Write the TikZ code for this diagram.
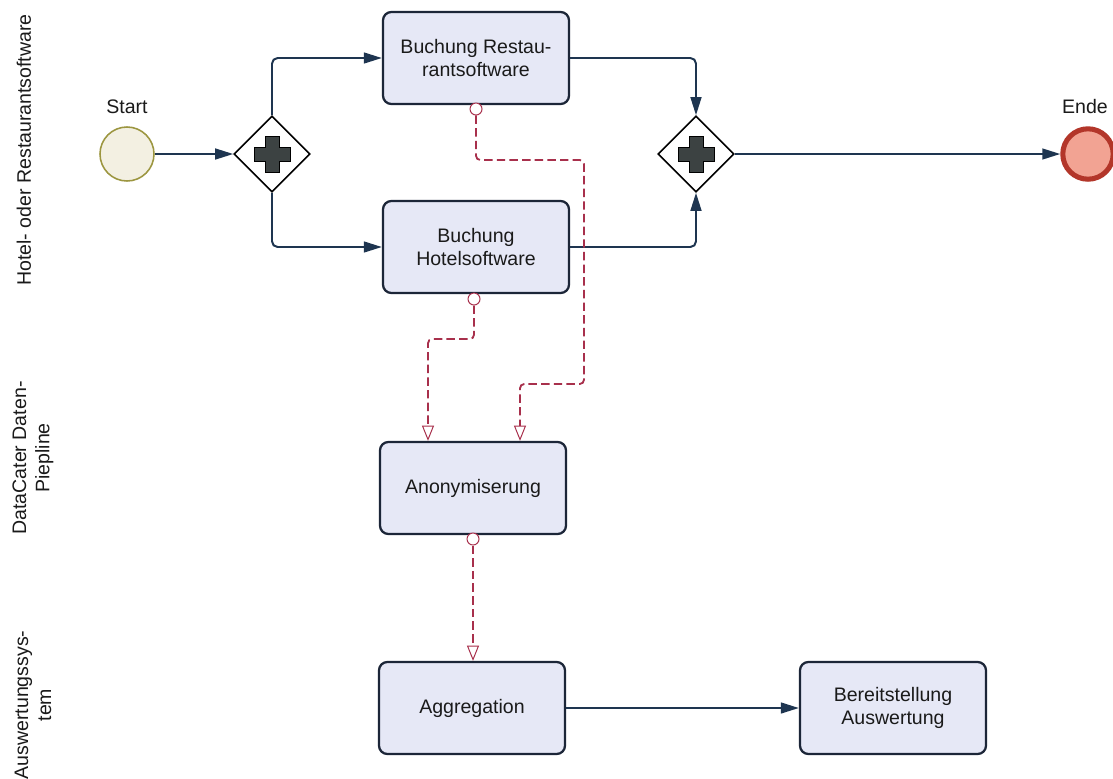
\documentclass[tikz,border=0pt]{standalone}
\usepackage{fontspec}
\setmainfont{Liberation Sans}
\usetikzlibrary{arrows.meta,shapes.geometric,calc}
\definecolor{taskfill}{HTML}{E6E8F6}
\definecolor{taskline}{HTML}{1C2638}
\definecolor{flow}{HTML}{1E3550}
\definecolor{assoc}{HTML}{A8304C}
\definecolor{startfill}{HTML}{F3F0E2}
\definecolor{startline}{HTML}{9C9640}
\definecolor{endfill}{HTML}{F2A393}
\definecolor{endline}{HTML}{B3362A}
\definecolor{crossc}{HTML}{3C4242}
\definecolor{txt}{HTML}{1A1A1A}
\tikzset{
  txtstyle/.style={font=\fontsize{13.9}{16.5}\selectfont, text=txt},
  task/.style={txtstyle, draw=taskline, fill=taskfill, line width=1.6pt, rounded corners=6pt,
    minimum width=4.65cm, minimum height=2.3cm, align=center, inner sep=2pt},
  gateway/.style={draw=black, fill=white, diamond, line width=1.1pt, minimum width=1.9cm, minimum height=1.9cm, inner sep=0pt},
  startev/.style={circle, draw=startline, fill=startfill, line width=1.1pt, minimum size=1.35cm, inner sep=0pt},
  endev/.style={circle, draw=endline, fill=endfill, line width=3.6pt, minimum size=1.26cm, inner sep=0pt},
  seqflow/.style={draw=flow, line width=1.4pt, rounded corners=4pt, -{Triangle[length=0.45cm,width=0.27cm]}},
  assocflow/.style={draw=assoc, line width=1.3pt, dash pattern=on 6pt off 3pt, rounded corners=3pt,
    -{Triangle[open,length=0.38cm,width=0.3cm,fill=white,line width=0.7pt]}},
  dot/.style={circle, draw=assoc, fill=white, line width=0.7pt, minimum size=0.3cm, inner sep=0pt},
  lane/.style={txtstyle, rotate=90, align=center},
  lbl/.style={txtstyle},
  crossstyle/.style={fill=crossc, draw=black, line width=0.6pt}
}
\newcommand{\gwcross}[1]{%
  \path[crossstyle] ($(#1)+(-18,-7)$) -- ++(11,0) -- ++(0,-11) -- ++(14,0) -- ++(0,11) -- ++(11,0) -- ++(0,14) -- ++(-11,0) -- ++(0,11) -- ++(-14,0) -- ++(0,-11) -- ++(-11,0) -- cycle;}
\begin{document}
\begin{tikzpicture}[x=0.025cm,y=-0.025cm]
\useasboundingbox[fill=white] (0,0) rectangle (1113,778);
% lanes
\node[lane] (l1) at (24,150) {Hotel- oder Restaurantsoftware};
\node[lane] (l2) at (33,458) {DataCater Daten-\\Piepline};
\node[lane] (l3) at (33,705) {Auswertungssys-\\tem};
% events
\node[startev] (start) at (127,154) {};
\node[lbl] (startl) at (127,107) {Start};
\node[endev] (end) at (1088,154) {};
\node[lbl] (endl) at (1085,107) {Ende};
% gateways
\node[gateway] (g1) at (272,154) {};
\node[gateway] (g2) at (696,154) {};
% tasks
\node[task] (t1) at (476,58) {Buchung Restau-\\rantsoftware};
\node[task] (t2) at (476,247) {Buchung\\Hotelsoftware};
\node[task] (t3) at (473,488) {Anonymiserung};
\node[task] (t4) at (472,708) {Aggregation};
\node[task] (t5) at (893,708) {Bereitstellung\\Auswertung};
% sequence flows
\draw[seqflow] (start) -- (g1.west);
\draw[seqflow] (g1.north) |- (t1.west);
\draw[seqflow] (g1.south) |- (t2.west);
\draw[seqflow] (t1.east) -| (g2.north);
\draw[seqflow] (t2.east) -| (g2.south);
\draw[seqflow] (g2.east) -- (end.west);
\draw[seqflow] (t4.east) -- (t5.west);
% crosses
\gwcross{g1}
\gwcross{g2}
% associations
\node[dot] (d1) at (476,109) {};
\node[dot] (d2) at (474,299) {};
\node[dot] (d3) at (473,539) {};
\coordinate (a1) at (520,442);
\coordinate (a2) at (428,442);
\draw[assocflow] (d1.south) -- (476,160) -- (584,160) -- (584,384) -- (520,384) -- (t3.north -| a1);
\draw[assocflow] (d2.south) -- (474,339) -- (428,339) -- (t3.north -| a2);
\draw[assocflow] (d3.south) -- (t4.north -| d3);
\end{tikzpicture}
\end{document}
